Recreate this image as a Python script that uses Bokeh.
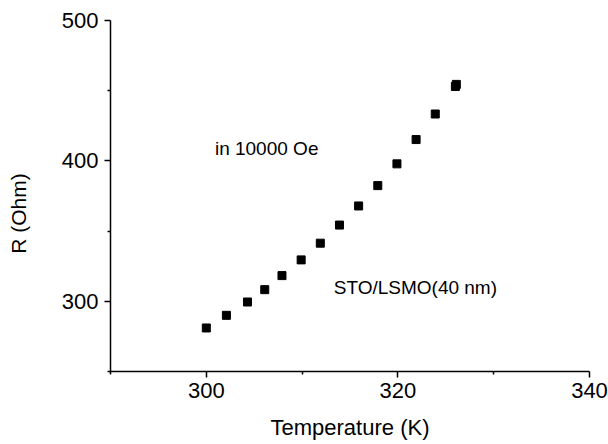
from bokeh.plotting import figure
from bokeh.models import FixedTicker, Range1d
from bokeh.core.properties import value
from bokeh.embed import file_html
from bokeh.resources import INLINE

temperature = [300.0, 302.1, 304.3, 306.1, 307.9, 309.9, 311.9, 313.9, 315.9, 317.9, 319.9, 321.9, 323.9, 326.0, 326.1]
resistance = [281.0, 290.0, 299.5, 308.3, 318.3, 329.5, 341.4, 354.3, 367.9, 382.4, 397.9, 415.2, 433.4, 453.0, 454.5]

x_ticks = [300, 320, 340]
x_minor = [290, 310, 330]
y_ticks = [300, 400, 500]
y_minor = [250, 350, 450]

notes_x = [300.9, 313.3]
notes_y = [408.6, 309.5]
notes_text = ["in 10000 Oe", "STO/LSMO(40 nm)"]

x_title = "Temperature (K)"
y_title = "R (Ohm)"

FONT = "Liberation Sans"

p = figure(width=608, height=444, output_backend="svg", toolbar_location=None,
           x_range=Range1d(290, 340), y_range=Range1d(250, 500),
           min_border_left=110, min_border_right=19, min_border_top=20, min_border_bottom=73)

p.outline_line_color = None
p.xgrid.visible = False
p.ygrid.visible = False
p.background_fill_color = "white"
p.border_fill_color = "white"

p.scatter(temperature, resistance, marker="square", size=8, color="black")

p.text(x=notes_x, y=notes_y, text=notes_text, text_font=value(FONT),
       text_font_size="19px", text_baseline="middle", text_align="left", text_color="black")

p.xaxis.ticker = FixedTicker(ticks=x_ticks, minor_ticks=x_minor)
p.yaxis.ticker = FixedTicker(ticks=y_ticks, minor_ticks=y_minor)

for ax in (p.xaxis[0], p.yaxis[0]):
    ax.axis_line_width = 1.5
    ax.axis_line_color = "black"
    ax.major_tick_line_color = "black"
    ax.minor_tick_line_color = "black"
    ax.major_tick_line_width = 1.5
    ax.minor_tick_line_width = 1.5
    ax.major_tick_in = 0
    ax.major_tick_out = 6
    ax.minor_tick_in = 0
    ax.minor_tick_out = 3
    ax.major_label_text_font = FONT
    ax.major_label_text_font_size = "22px"
    ax.major_label_text_color = "black"
    ax.axis_label_text_font = FONT
    ax.axis_label_text_font_size = "22px"
    ax.axis_label_text_font_style = "normal"
    ax.axis_label_text_color = "black"

p.xaxis.axis_label = x_title
# non-breaking padding after the title moves the visible text slightly below the frame centre
p.yaxis.axis_label = y_title + "\u00a0" * 6
p.yaxis.axis_label_text_font_size = "21px"
p.xaxis.major_label_standoff = 5
p.xaxis.axis_label_standoff = 14
p.yaxis.major_label_standoff = 6
p.yaxis.axis_label_standoff = 29

open("out.html", "w").write(file_html(p, INLINE))
